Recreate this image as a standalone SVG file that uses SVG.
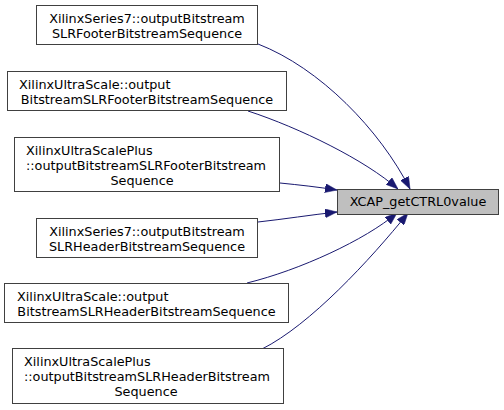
<svg xmlns="http://www.w3.org/2000/svg" width="504" height="410" viewBox="0 0 504 410">
<style>
.n rect{fill:#ffffff;stroke:#404040;stroke-width:1}
.n.t rect{fill:#bfbfbf}
text{font-family:"DejaVu Sans","Liberation Sans",sans-serif;font-size:12.8px;fill:#000000}
.m{text-anchor:middle}
.s{text-anchor:start}
.e path{fill:none;stroke:#191970;stroke-width:1}
</style>
<defs>
<marker id="ah" markerUnits="userSpaceOnUse" viewBox="0 0 12 9" markerWidth="12" markerHeight="9" refX="12" refY="4.5" orient="auto">
<path d="M0,0 L12,4.5 L0,9 Z" fill="#191970" stroke="#191970" stroke-width="0.5"/>
</marker>
</defs>
<rect width="504" height="410" fill="#ffffff"/>
<g class="e" id="connectors">
<path d="M258,44 C320,68 380,130 410,189" marker-end="url(#ah)"/>
<path d="M248,111 C300,128 365,160 398,189" marker-end="url(#ah)"/>
<path d="M280,183 C300,185 318,187 337,190" marker-end="url(#ah)"/>
<path d="M258,222 C285,219 310,215 337,212" marker-end="url(#ah)"/>
<path d="M247,283 C300,270 365,240 397,213" marker-end="url(#ah)"/>
<path d="M262,349 C310,325 370,260 408,213" marker-end="url(#ah)"/>
</g>
<g class="n t" id="node_target">
<rect x="337.5" y="189.5" width="161" height="25"/>
<text class="m" x="418" y="206">XCAP_getCTRL0value</text>
</g>
<g class="n" id="node1">
<rect x="36.5" y="5.5" width="221" height="39"/>
<text class="m" x="147" y="23">XilinxSeries7::outputBitstream</text>
<text class="m" x="147" y="38">SLRFooterBitstreamSequence</text>
</g>
<g class="n" id="node2">
<rect x="7.5" y="71.5" width="279" height="39"/>
<text class="s" x="19" y="89">XilinxUltraScale::output</text>
<text class="m" x="147" y="104">BitstreamSLRFooterBitstreamSequence</text>
</g>
<g class="n" id="node3">
<rect x="14.5" y="137.5" width="265" height="54"/>
<text class="s" x="26" y="155">XilinxUltraScalePlus</text>
<text class="s" x="26" y="170">::outputBitstreamSLRFooterBitstream</text>
<text class="m" x="142" y="185">Sequence</text>
</g>
<g class="n" id="node4">
<rect x="36.5" y="218.5" width="221" height="39"/>
<text class="m" x="147" y="236">XilinxSeries7::outputBitstream</text>
<text class="m" x="147" y="251">SLRHeaderBitstreamSequence</text>
</g>
<g class="n" id="node5">
<rect x="4.5" y="283.5" width="284" height="39"/>
<text class="s" x="17" y="301">XilinxUltraScale::output</text>
<text class="m" x="146.5" y="316">BitstreamSLRHeaderBitstreamSequence</text>
</g>
<g class="n" id="node6">
<rect x="12.5" y="348.5" width="271" height="55"/>
<text class="s" x="24" y="366">XilinxUltraScalePlus</text>
<text class="s" x="24" y="381">::outputBitstreamSLRHeaderBitstream</text>
<text class="m" x="146" y="396">Sequence</text>
</g>
</svg>
